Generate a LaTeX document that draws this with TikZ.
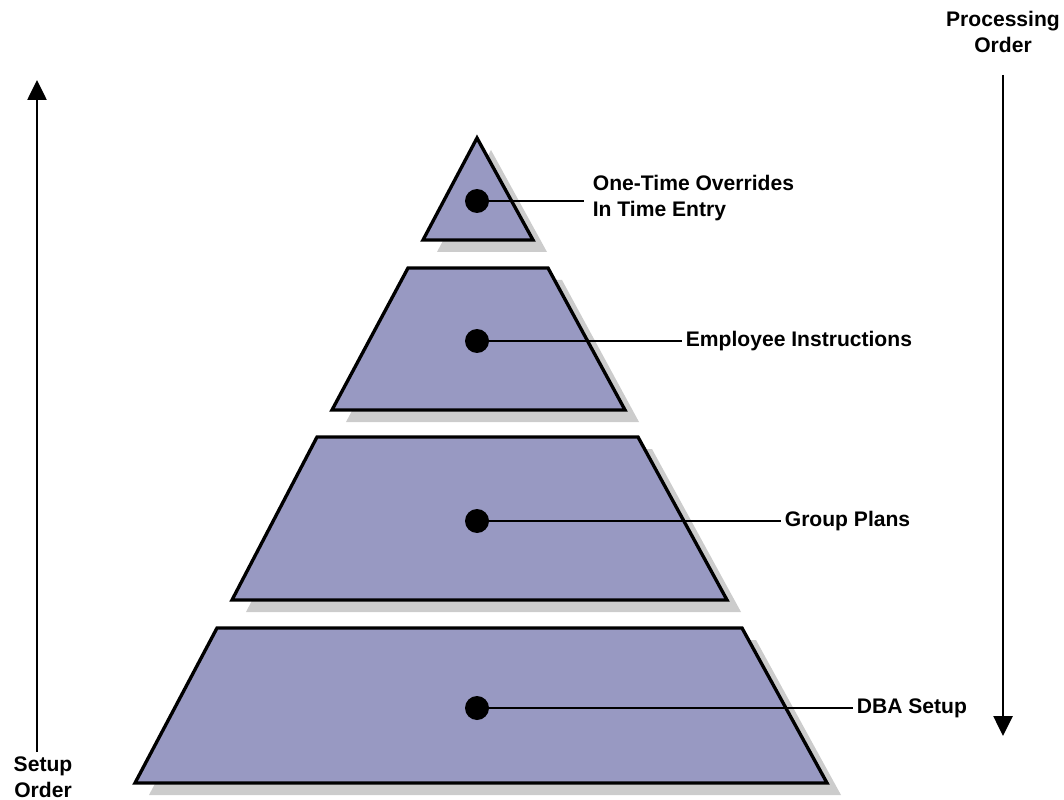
\documentclass[tikz,border=0pt]{standalone}
\usepackage{fontspec}
\setmainfont{Liberation Sans}
\usetikzlibrary{arrows.meta,calc}
\definecolor{tierfill}{RGB}{152,153,194}
\definecolor{tiershade}{RGB}{204,204,204}
\tikzset{
  tier/.style={fill=tierfill,draw=black,line width=1.9pt,line join=miter},
  shade/.style={fill=tiershade},
  dot/.style={circle,fill=black,inner sep=0pt,minimum size=0.48cm},
  lead/.style={line width=1.3pt},
  tag/.style={font=\bfseries\fontsize{12}{15}\selectfont,anchor=west,align=left,inner sep=2pt},
  order/.style={line width=1.5pt,-{Triangle[width=0.38cm,length=0.4cm]}}
}

\begin{document}
\begin{tikzpicture}[x=0.02cm,y=-0.02cm]
\useasboundingbox (0,0) rectangle (1064,800);
% tiers: top left, top right, bottom left, bottom right, top y, bottom y
\foreach \tl/\tr/\bl/\br/\ty/\by in {477/477/423/533/138/240,
                                     408/548/332/625/268/410,
                                     317/638/232/727/437/600,
                                     217/742/135/827/628/783}{
\fill[shade] (\tl+14,\ty+12)--(\tr+14,\ty+12)--(\br+14,\by+12)--(\bl+14,\by+12)--cycle;
\draw[tier] (\tl,\ty)--(\tr,\ty)--(\br,\by)--(\bl,\by)--cycle;
}
% dots and leaders
\node[dot] (d1) at (477,201) {};
\node[dot] (d2) at (477,341) {};
\node[dot] (d3) at (477,521) {};
\node[dot] (d4) at (477,708) {};
\coordinate (e1) at (584,201);
\coordinate (e2) at (682,341);
\coordinate (e3) at (781,521);
\coordinate (e4) at (853,708);
\draw[lead] (d1.center) -- (e1);
\draw[lead] (d2.center) -- (e2);
\draw[lead] (d3.center) -- (e3);
\draw[lead] (d4.center) -- (e4);
\node[tag] (t1) at ($(e1)+(5,-3)$) {One-Time Overrides\\In Time Entry};
\node[tag] (t2) at (e2) {Employee Instructions};
\node[tag] (t3) at (e3) {Group Plans};
\node[tag] (t4) at (e4) {DBA Setup};
% order arrows
\node[tag,anchor=center,align=center] (setup) at (43,777) {Setup\\Order};
\node[tag,anchor=center,align=center] (proc) at (1003,32) {Processing\\Order};
\coordinate (s0) at (37,752);
\coordinate (s1) at (37,80);
\coordinate (p0) at (1003,75);
\coordinate (p1) at (1003,736);
\draw[order] (s0) -- (s1);
\draw[order] (p0) -- (p1);
\end{tikzpicture}
\end{document}
